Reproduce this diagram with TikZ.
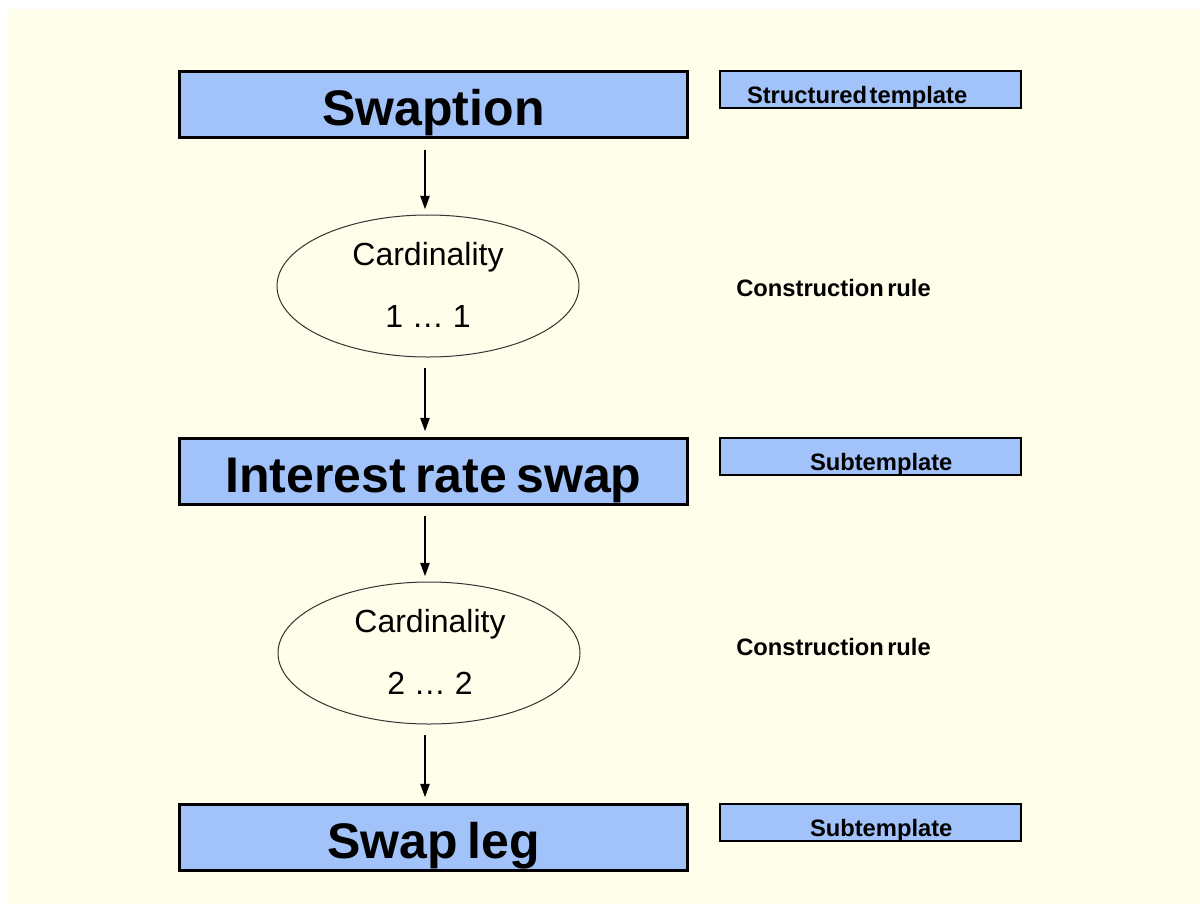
\documentclass[tikz,border=0pt]{standalone}
\usepackage{fontspec}
\setmainfont{Liberation Sans}
\usetikzlibrary{shapes.geometric,arrows.meta}
\definecolor{bgyellow}{RGB}{255,254,234}
\definecolor{boxblue}{RGB}{162,194,250}
\tikzset{
  tight/.style={execute at begin node={\spaceskip=#1\relax}},
  mainbox/.style={draw=black, line width=2.25pt, fill=boxblue, minimum width=381pt, minimum height=49.5pt,
    inner sep=0pt, text height=31.6pt, text depth=0pt, tight=7pt,
    font=\fontsize{37.5pt}{40pt}\selectfont\bfseries},
  sidebox/.style={draw=black, line width=1.5pt, fill=boxblue, text width=225.75pt, minimum height=27.75pt,
    inner xsep=0pt, inner ysep=0pt, align=left, text height=21pt, text depth=0pt, tight=2pt,
    font=\fontsize{17.8pt}{19pt}\selectfont\bfseries},
  card/.style={ellipse, draw=black!80, line width=0.75pt, fill=bgyellow, minimum width=226.5pt,
    minimum height=106.5pt, inner sep=0pt},
  cardtext/.style={anchor=base, inner sep=0pt, font=\fontsize{24pt}{26pt}\selectfont},
  rule/.style={anchor=base west, inner sep=0pt, tight=2.5pt, font=\fontsize{17.8pt}{19pt}\selectfont\bfseries},
  arr/.style={line width=1.1pt, -{Triangle[length=10pt,width=7pt]}, shorten <=8pt, shorten >=4pt}
}
\begin{document}
\begin{tikzpicture}[x=0.75pt, y=-0.75pt]
\useasboundingbox (0,0) rectangle (1200,904);
\fill[white] (0,0) rectangle (1200,904);
\fill[bgyellow] (8,9) rectangle (1200,904);

% main boxes
\node[mainbox] (sw) at (433.5,104.5) {Swaption};
\node[mainbox] (irs) at (433.5,471) {Interest rate swap};
\node[mainbox] (leg) at (433.5,837) {Swap leg};

% side boxes
\node[sidebox] (st) at (870.5,89.5) {\hspace*{20.25pt}Structured template};
\node[sidebox] (sub1) at (870.5,456) {\hspace*{67.5pt}Subtemplate};
\node[sidebox] (sub2) at (870.5,822) {\hspace*{67.5pt}Subtemplate};

% cardinality ellipses
\node[card] (c1) at (428,286) {};
\node[cardtext] (c1a) at (428,265.7) {Cardinality};
\node[cardtext] (c1b) at (428,327) {1 … 1};
\node[card] (c2) at (429,653) {};
\node[cardtext] (c2a) at (430,632.7) {Cardinality};
\node[cardtext] (c2b) at (430,694) {2 … 2};

% construction rules
\node[rule] (r1) at (736,296) {Construction rule};
\node[rule] (r2) at (736,655) {Construction rule};

% arrows
\draw[arr] ([xshift=-2.25pt]c1.north |- sw.south) -- ([xshift=-2.25pt]c1.north);
\draw[arr] ([xshift=-2.25pt]c1.south) -- ([xshift=-2.25pt]c1.south |- irs.north);
\draw[arr] ([xshift=-3pt]c2.north |- irs.south) -- ([xshift=-3pt]c2.north);
\draw[arr] ([xshift=-3pt]c2.south) -- ([xshift=-3pt]c2.south |- leg.north);
\end{tikzpicture}
\end{document}
